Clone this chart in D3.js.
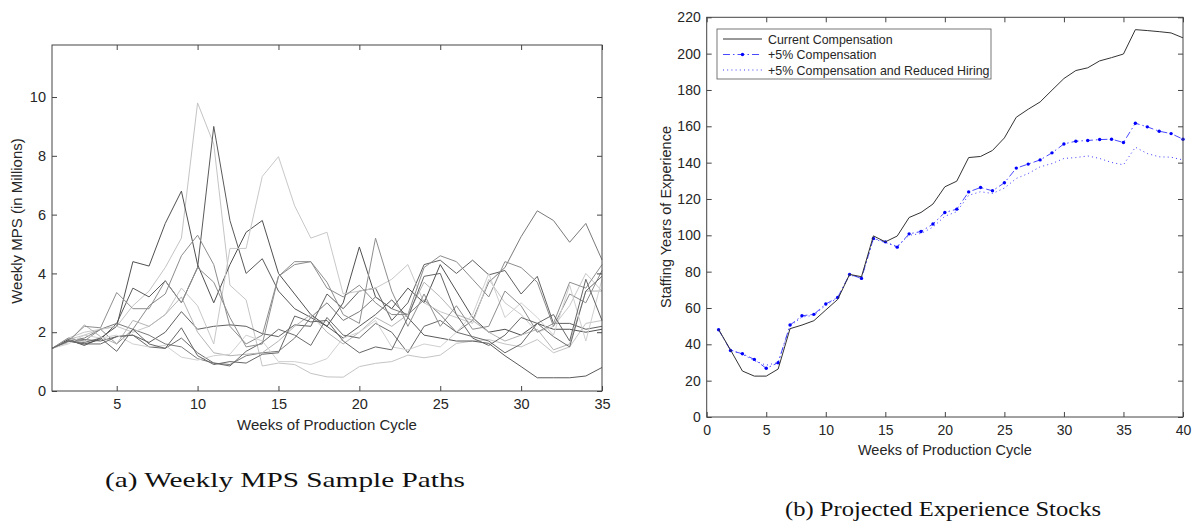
<!DOCTYPE html>
<html>
<head>
<meta charset="utf-8">
<script src="https://cdn.jsdelivr.net/npm/d3@7"></script>
<style>
  body { margin: 0; background: #fff; }
  svg { display: block; }
  .tick text { font-family: "Liberation Sans", Arial, sans-serif; fill: #262626; }
  .lbl { font-family: "Liberation Sans", Arial, sans-serif; fill: #262626; }
  .cap { font-family: "Liberation Serif", "DejaVu Serif", serif; fill: #111; }
</style>
</head>
<body>
<svg width="1196" height="524"></svg>
<script>
// ---- left panel: weekly MPS sample paths (weeks 1..35)
var weeksA = d3.range(1, 36);
var pathShades = ["#c4c4c4", "#5a5a5a", "#505050", "#606060", "#7a7a7a", "#c8c8c8",
                  "#8c8c8c", "#b4b4b4", "#6a6a6a", "#d0d0d0", "#8e8e8e", "#666666"];
var mpsPaths = [
  [1.45,1.75,1.9,2.1,2.2,2.9,3.4,4.2,5.2,9.8,8.4,3.6,3.1,0.85,0.95,0.9,0.6,0.48,0.47,0.83,0.94,1.0,1.22,1.13,1.22,1.62,1.7,1.75,1.6,1.5,1.75,1.3,1.5,2.3,2.4],
  [1.45,1.7,1.6,1.75,2.3,3.5,3.2,3.75,3.0,4.2,9.0,5.8,4.0,4.5,3.4,2.8,2.5,2.2,1.8,2.2,2.6,3.1,2.5,1.9,1.8,1.7,1.7,1.62,1.2,0.83,0.45,0.45,0.45,0.51,0.8],
  [1.45,1.75,1.55,1.8,2.2,4.4,4.25,5.7,6.8,4.3,3.0,4.3,5.4,5.8,4.0,3.3,2.6,2.2,3.0,4.9,3.2,2.8,3.5,3.0,4.3,3.4,2.5,2.0,2.1,1.9,2.3,2.1,2.1,2.0,2.1],
  [1.45,1.7,1.75,1.7,1.85,1.9,1.65,2.0,2.7,2.1,2.2,2.25,2.2,1.95,1.85,2.25,2.2,3.3,2.8,3.4,3.5,2.4,3.0,4.3,4.45,4.0,4.45,3.95,4.1,3.3,3.9,2.3,2.3,2.1,2.2],
  [1.45,1.7,1.8,2.1,2.3,2.1,1.9,1.6,1.5,1.1,0.95,0.9,1.2,1.3,1.35,1.8,2.5,3.0,2.4,2.7,3.2,2.8,2.6,3.1,2.6,2.0,2.4,3.7,4.2,5.25,6.13,5.8,5.06,5.7,4.46],
  [1.45,1.8,2.0,2.1,2.2,2.0,2.2,2.6,3.5,2.9,1.6,4.85,4.85,7.3,7.97,6.3,5.2,5.4,3.3,3.4,3.5,3.8,4.3,3.0,2.7,2.5,2.3,3.8,3.0,2.6,2.0,2.2,2.9,4.0,3.4],
  [1.45,1.8,1.7,2.1,1.6,2.1,2.9,3.3,4.6,5.3,4.3,2.2,1.6,1.9,3.9,4.3,4.4,3.5,3.2,3.6,3.0,2.6,2.6,4.2,4.6,4.4,3.8,3.2,4.4,4.2,3.7,2.2,3.3,3.0,4.1],
  [1.45,1.65,2.25,1.85,1.6,2.4,2.2,2.6,3.2,2.0,1.3,1.2,1.25,1.3,1.7,2.2,2.6,2.0,1.6,2.0,2.5,2.2,2.6,3.7,3.2,2.6,2.4,2.0,1.7,1.9,2.1,1.4,1.6,3.4,3.4],
  [1.45,1.7,1.6,1.6,1.85,1.9,1.5,1.45,1.8,1.3,0.95,0.85,1.35,1.65,2.1,1.9,1.55,2.5,1.9,1.8,2.3,2.0,1.3,2.2,2.4,2.0,1.85,1.7,1.3,1.6,2.3,1.85,1.5,3.4,3.9],
  [1.45,1.6,1.9,1.8,1.9,1.6,1.5,1.55,1.15,1.05,1.2,1.25,1.9,1.7,1.0,1.0,0.9,1.1,1.8,2.0,2.4,1.5,1.4,1.6,1.5,2.0,2.6,4.0,2.5,3.0,2.5,1.9,3.6,1.7,3.8],
  [1.45,1.7,2.2,2.15,3.35,2.8,2.8,3.75,3.0,4.2,3.7,2.5,1.5,1.6,3.9,4.4,4.4,3.7,2.6,2.3,5.2,3.4,2.2,3.3,2.2,2.9,2.1,2.2,3.4,2.9,2.0,2.3,3.7,3.5,4.3],
  [1.45,1.7,1.65,1.8,1.35,2.1,1.6,1.45,2.15,1.2,0.9,1.0,0.95,1.25,1.3,2.55,2.35,2.4,1.7,1.3,1.5,1.4,2.5,3.9,4.0,2.6,1.8,1.55,1.9,2.5,2.3,2.6,1.7,3.8,2.4]
];
var mpsYTicks = [0, 2, 4, 6, 8, 10];
var mpsXTicks = [5, 10, 15, 20, 25, 30, 35];

// ---- right panel: projected experience stocks (weeks 1..40)
var weeksB = d3.range(1, 41);
var currentComp = [48.2,36.9,25.3,22.5,22.5,26.4,48.6,50.6,53,58.9,64.7,78.5,77.2,99.7,96.4,99.6,109.8,112.6,117.2,126.7,129.8,142.8,143.4,146.7,153.6,165,169.4,173.4,179.9,186.3,190.7,192.2,196,197.8,199.8,213.2,212.7,212.1,211.4,208.7];
var plus5Comp = [48,36.6,34.8,31.7,26.8,29.9,50.6,55.7,56.5,62.2,65.8,78.5,76.3,98.3,96.4,93.5,100.8,102.1,106.2,112.6,114.4,123.9,126.3,124.5,128.9,137,139.2,141.5,145.4,150.3,151.8,152.2,152.7,152.9,151.1,161.7,159.7,157.3,156,152.9];
var plus5Reduced = [48,37,34.5,31,28.5,30,50,55,56,61.5,65.5,78,77,98,96,94,100,101,104.5,110.5,113,122,124,123,126,131.3,134,137.7,139.5,142.3,142.8,143.7,142.3,140.1,138.8,148.5,145,143.2,143,141.5];
var expYTicks = d3.range(0, 221, 20);
var expXTicks = d3.range(0, 41, 5);
var legendNames = ["Current Compensation", "+5% Compensation", "+5% Compensation and Reduced Hiring"];

var svg = d3.select("svg");

function boxAxes(g, x, y, w, h, xt, yt, fs) {
  g.append("g").attr("transform", "translate(0," + h + ")")
    .call(d3.axisBottom(x).tickValues(xt).tickSizeInner(-5).tickSizeOuter(0).tickPadding(8));
  g.append("g")
    .call(d3.axisLeft(y).tickValues(yt).tickSizeInner(-5).tickSizeOuter(0).tickPadding(6));
  g.append("g")
    .call(d3.axisTop(x).tickValues(xt).tickSizeInner(-5).tickSizeOuter(0).tickFormat(""));
  g.append("g").attr("transform", "translate(" + w + ",0)")
    .call(d3.axisRight(y).tickValues(yt).tickSizeInner(-5).tickSizeOuter(0).tickFormat(""));
  g.selectAll(".domain").remove();
  g.selectAll(".tick line").attr("stroke", "#444");
  g.selectAll(".tick text").style("font-size", fs + "px");
  g.append("rect").attr("width", w).attr("height", h)
    .attr("fill", "none").attr("stroke", "#444").attr("stroke-width", 1);
}

// left chart
var wA = 550, hA = 346;
var gA = svg.append("g").attr("transform", "translate(52,45)");
var xA = d3.scaleLinear().domain([1, 35]).range([0, wA]);
var yA = d3.scaleLinear().domain([0, 11.77]).range([hA, 0]);
var lineA = d3.line().x(function(d, i) { return xA(weeksA[i]); }).y(function(d) { return yA(d); });

gA.selectAll(".path")
  .data(mpsPaths)
  .enter()
  .append("path")
  .attr("d", lineA)
  .attr("fill", "none")
  .attr("stroke", function(d, i) { return pathShades[i]; })
  .attr("stroke-width", 1);

boxAxes(gA, xA, yA, wA, hA, mpsXTicks, mpsYTicks, 14.5);

svg.append("text").attr("class", "lbl")
  .attr("x", 52 + wA / 2).attr("y", 430)
  .attr("text-anchor", "middle").style("font-size", "15px")
  .text("Weeks of Production Cycle");
svg.append("text").attr("class", "lbl")
  .attr("transform", "translate(22,221) rotate(-90)")
  .attr("text-anchor", "middle").style("font-size", "15px")
  .text("Weekly MPS (in Millions)");

// right chart
var wB = 476.3, hB = 399.7;
var gB = svg.append("g").attr("transform", "translate(706.7,17.3)");
var xB = d3.scaleLinear().domain([0, 40]).range([0, wB]);
var yB = d3.scaleLinear().domain([0, 220]).range([hB, 0]);
var lineB = d3.line().x(function(d, i) { return xB(weeksB[i]); }).y(function(d) { return yB(d); });

gB.append("path").attr("d", lineB(plus5Reduced))
  .attr("fill", "none").attr("stroke", "#3b3bff").attr("stroke-width", 1)
  .attr("stroke-dasharray", "1,3.2");
gB.append("path").attr("d", lineB(plus5Comp))
  .attr("fill", "none").attr("stroke", "#1a1aff").attr("stroke-width", 0.8)
  .attr("stroke-dasharray", "7,3,1.5,3");
gB.selectAll(".mk")
  .data(plus5Comp)
  .enter()
  .append("circle")
  .attr("cx", function(d, i) { return xB(weeksB[i]); })
  .attr("cy", function(d) { return yB(d); })
  .attr("r", 1.7)
  .attr("fill", "#0000ff");
gB.append("path").attr("d", lineB(currentComp))
  .attr("fill", "none").attr("stroke", "#333").attr("stroke-width", 1);

boxAxes(gB, xB, yB, wB, hB, expXTicks, expYTicks, 14);

// legend
var leg = svg.append("g").attr("transform", "translate(717,29)");
leg.append("rect").attr("width", 274).attr("height", 50)
  .attr("fill", "#fff").attr("stroke", "#555").attr("stroke-width", 0.8);
var legStyles = [
  { stroke: "#333", dash: null, w: 1 },
  { stroke: "#1a1aff", dash: "7,3,1.5,3", w: 0.8 },
  { stroke: "#3b3bff", dash: "1,3.2", w: 1 }
];
legendNames.forEach(function(name, i) {
  var yy = 10 + i * 15.5;
  leg.append("line").attr("x1", 6).attr("x2", 45).attr("y1", yy).attr("y2", yy)
    .attr("stroke", legStyles[i].stroke).attr("stroke-width", legStyles[i].w)
    .attr("stroke-dasharray", legStyles[i].dash);
  if (i === 1) {
    leg.append("circle").attr("cx", 25.5).attr("cy", yy).attr("r", 1.7).attr("fill", "#0000ff");
  }
  leg.append("text").attr("class", "lbl")
    .attr("x", 51).attr("y", yy + 4.5)
    .style("font-size", "12.4px")
    .text(name);
});

svg.append("text").attr("class", "lbl")
  .attr("x", 706.7 + wB / 2).attr("y", 455)
  .attr("text-anchor", "middle").style("font-size", "14.5px")
  .text("Weeks of Production Cycle");
svg.append("text").attr("class", "lbl")
  .attr("transform", "translate(671,217) rotate(-90)")
  .attr("text-anchor", "middle").style("font-size", "14.5px")
  .text("Staffing Years of Experience");

// captions
svg.append("text").attr("class", "cap")
  .attr("x", 105).attr("y", 487)
  .attr("textLength", 360).attr("lengthAdjust", "spacingAndGlyphs")
  .style("font-size", "21px")
  .text("(a) Weekly MPS Sample Paths");
svg.append("text").attr("class", "cap")
  .attr("x", 785).attr("y", 516)
  .attr("textLength", 316).attr("lengthAdjust", "spacingAndGlyphs")
  .style("font-size", "21px")
  .text("(b) Projected Experience Stocks");
</script>
</body>
</html>
